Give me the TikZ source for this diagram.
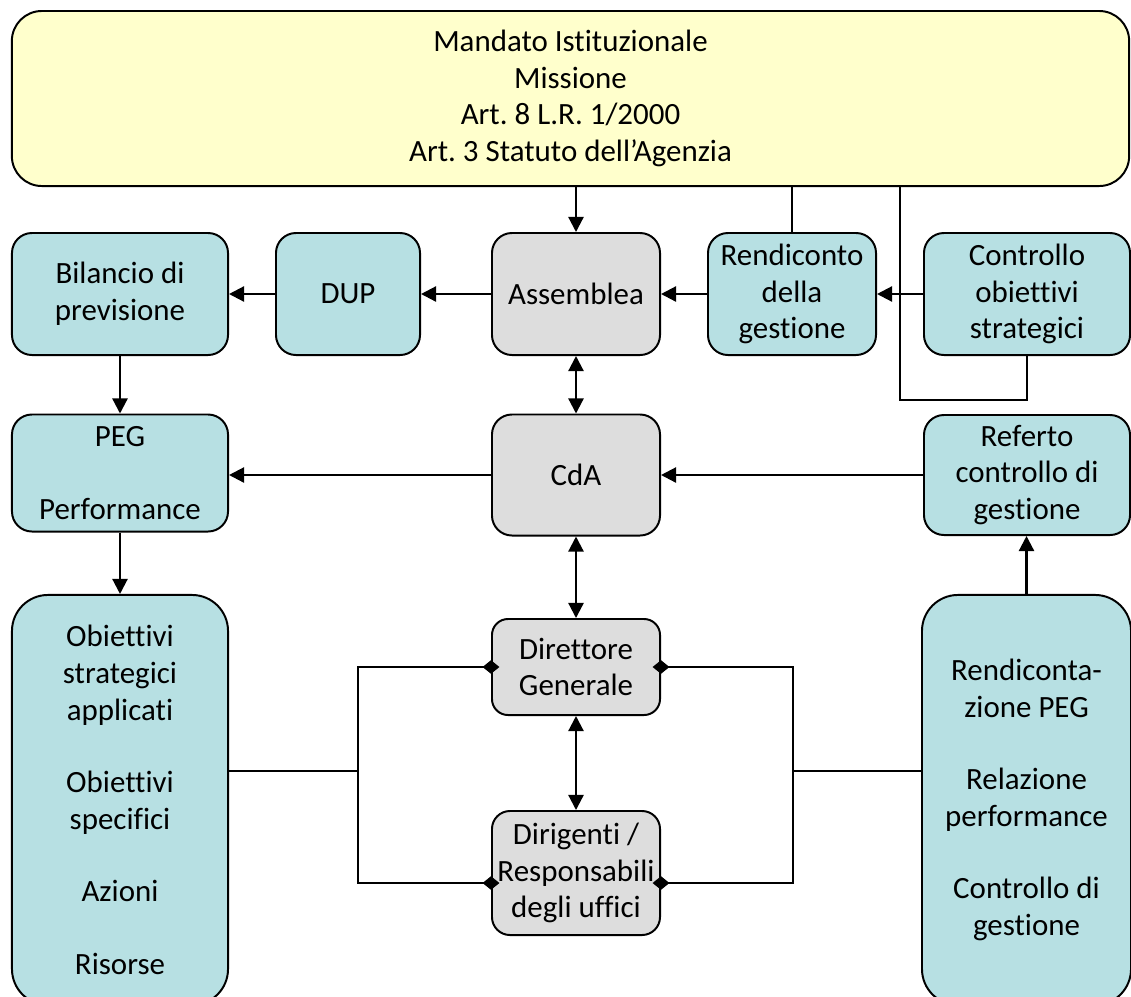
\documentclass[tikz,border=0pt]{standalone}
\usepackage{fontspec}
\setmainfont[Ligatures={NoCommon,NoContextual}]{Carlito}
\frenchspacing
\usetikzlibrary{arrows.meta}

\definecolor{boxteal}{RGB}{183,224,227}
\definecolor{boxgray}{RGB}{221,221,221}
\definecolor{boxyellow}{RGB}{255,255,204}

\begin{document}
\begin{tikzpicture}[x=0.025cm, y=-0.025cm]
    \tikzstyle{every node}=[draw=black, line width=1.4pt, align=center, inner sep=2pt, font=\fontsize{22pt}{26pt}\selectfont, text=black]
    \tikzstyle{mandato}=[fill=boxyellow, rounded corners=0.75cm, minimum width=27.925cm, minimum height=4.375cm]
    \tikzstyle{plan}=[fill=boxteal, rounded corners=0.5cm, minimum height=3.05cm]
    \tikzstyle{organo}=[fill=boxgray, rounded corners=0.5cm, minimum width=4.2cm]
    \tikzstyle{lato}=[fill=boxteal, rounded corners=0.9cm, minimum height=10.25cm]
    \tikzstyle{link}=[line width=1.6pt]
    \tikzstyle{arr}=[link, -{Triangle[length=0.38cm, width=0.38cm]}]
    \tikzstyle{darr}=[link, {Triangle[length=0.38cm, width=0.38cm]}-{Triangle[length=0.38cm, width=0.38cm]}]
    \tikzstyle{dmd}=[link, -{Diamond[length=0.42cm, width=0.34cm]}, shorten >=-0.21cm]

    \useasboundingbox (0,0) rectangle (1131,996);

    \node[mandato] (top) at (570.5,98.5) {Mandato Istituzionale\\Missione\\Art. 8 L.R. 1/2000\\Art. 3 Statuto dell’Agenzia};

    \node[plan, minimum width=5.4cm] (bil) at (120,294) {Bilancio di\\previsione};
    \node[plan, minimum width=3.6cm] (dup) at (348,294) {DUP};
    \node[organo, minimum height=3.05cm] (ass) at (576,294) {Assemblea};
    \node[plan, minimum width=4.2cm] (rend) at (792,294) {Rendiconto\\della\\gestione};
    \node[plan, minimum width=5.15cm] (ctrl) at (1027,294) {Controllo\\obiettivi\\strategici};

    \node[plan, minimum width=5.4cm, minimum height=2.925cm] (peg) at (120,473) {PEG\\[0.9cm]Performance};
    \node[organo, minimum height=3.025cm] (cda) at (576,475) {CdA};
    \node[plan, minimum width=5.15cm, minimum height=3cm] (ref) at (1027,475) {Referto\\controllo di\\gestione};

    \node[lato, minimum width=5.4cm] (obj) at (120,800) {Obiettivi\\strategici\\applicati\\[0.9cm]Obiettivi\\specifici\\[0.9cm]Azioni\\[0.9cm]Risorse};
    \node[organo, minimum height=2.4cm, rounded corners=0.4cm] (dir) at (576,667) {Direttore\\Generale};
    \node[organo, minimum height=3.1cm, rounded corners=0.45cm] (dirig) at (576,873) {Dirigenti /\\Responsabili\\degli uffici};
    \node[lato, minimum width=5.225cm] (rep) at (1026.5,800) {Rendiconta-\\zione PEG\\[0.9cm]Relazione\\performance\\[0.9cm]Controllo di\\gestione};

    \coordinate (lpa) at (900,186);
    \coordinate (lpb) at (900,400);
    \coordinate (jl) at (358,771);
    \coordinate (jr) at (793,771);

    \draw[arr] (ass.north |- top.south) -- (ass.north);
    \draw[arr] (ass.west) -- (dup.east);
    \draw[arr] (dup.west) -- (bil.east);
    \draw[arr] (rend.west) -- (ass.east);
    \draw[arr] (ctrl.west) -- (rend.east);
    \draw[link] (rend.north) -- (rend.north |- lpa) -- (lpa) -- (lpb) -| (ctrl.south);

    \draw[arr] (bil.south) -- (peg.north);
    \draw[arr] (peg.south) -- (obj.north);
    \draw[arr] (cda.west) -- (cda.west -| peg.east);
    \draw[arr] (ref.west) -- (cda.east);
    \draw[arr] (rep.north) -- (rep.north |- ref.south);

    \draw[darr] (ass.south) -- (cda.north);
    \draw[darr] (cda.south) -- (dir.north);
    \draw[darr] (dir.south) -- (dirig.north);

    \draw[link] (obj.east |- jl) -- (jl);
    \draw[dmd] (jl) |- (dir.west);
    \draw[dmd] (jl) |- ([yshift=-0.25cm]dirig.west);
    \draw[link] (jr) -- (jr -| rep.west);
    \draw[dmd] (jr) |- (dir.east);
    \draw[dmd] (jr) |- ([yshift=-0.25cm]dirig.east);
\end{tikzpicture}
\end{document}
